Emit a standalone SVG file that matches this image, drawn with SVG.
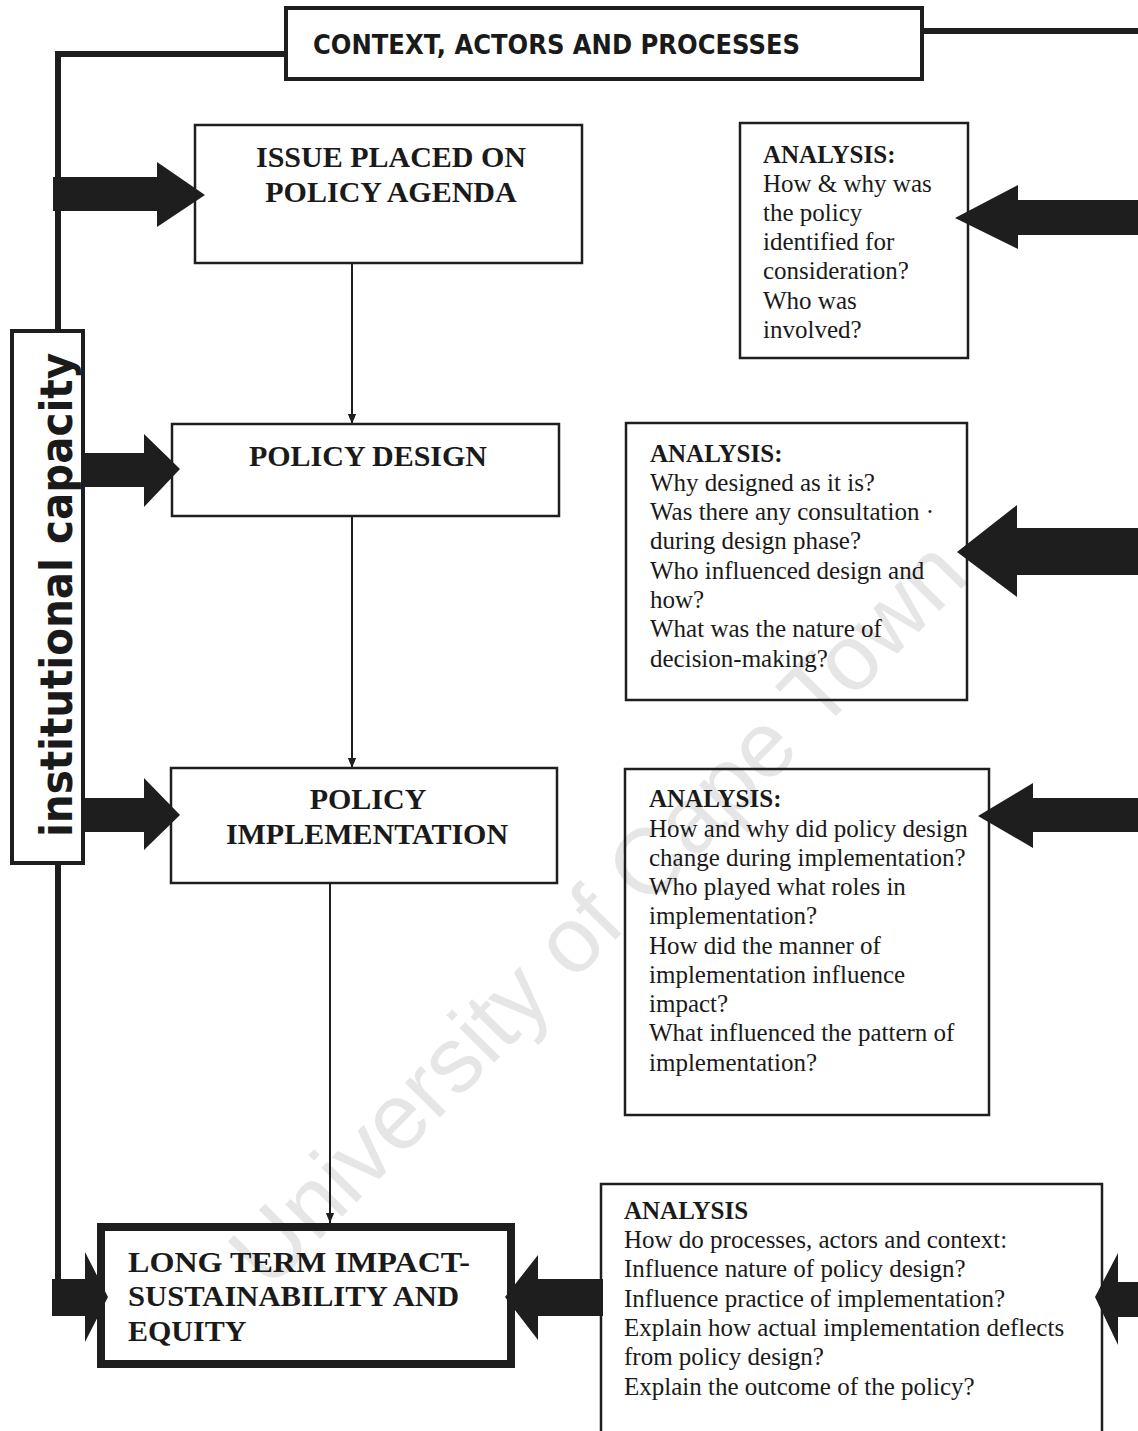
<svg xmlns="http://www.w3.org/2000/svg" width="1138" height="1431" viewBox="0 0 1138 1431">
<style>
.box{fill:none;stroke:#1e1e1e;stroke-width:2.5}
.thick{fill:none;stroke:#1e1e1e;stroke-width:4}
.title{font-family:"Liberation Serif","Times New Roman",serif;font-weight:bold;font-size:30px;fill:#1a1a1a}
.q{font-family:"Liberation Serif","Times New Roman",serif;font-size:25px;fill:#1a1a1a}
.qb{font-weight:bold}
.big{fill:#1e1e1e}
.wire{fill:none;stroke:#1e1e1e;stroke-width:6}
.thin{fill:none;stroke:#1e1e1e;stroke-width:2}
.sans{font-family:"DejaVu Sans","Liberation Sans",sans-serif;font-weight:bold;fill:#1a1a1a}
.wm{font-family:"Liberation Sans",Arial,sans-serif;font-size:93px;fill:#e6e6e6}
</style>
<defs>
<marker id="ah" markerUnits="userSpaceOnUse" markerWidth="10" markerHeight="12" refX="12" refY="5" orient="auto" viewBox="0 0 12 10">
<path d="M0,0 L12,5 L0,10 z" fill="#1e1e1e"/>
</marker>
</defs>
<rect width="1138" height="1431" fill="#ffffff"/>
<text class="wm" x="620" y="935" text-anchor="middle" transform="rotate(-45.4 620 935)">University of Cape Town</text>

<g id="connectors">
<path class="wire" d="M1138,31 H922"/>
<path class="wire" d="M286,54 H58 V331"/>
<path class="wire" d="M58,863 V1290"/>
<line class="thin" x1="352" y1="264" x2="352" y2="424" marker-end="url(#ah)"/>
<line class="thin" x1="352" y1="516" x2="352" y2="768" marker-end="url(#ah)"/>
<line class="thin" x1="330" y1="883" x2="330" y2="1223" marker-end="url(#ah)"/>
<polygon class="big" points="53,177 157,177 157,162 205,195 157,227 157,211 53,211"/>
<polygon class="big" points="83,453 144,453 144,434 180,469 144,507 144,487 83,487"/>
<polygon class="big" points="82,798 144,798 144,778 180,815 144,850 144,832 82,832"/>
<polygon class="big" points="52,1279 85,1279 85,1252 108,1297 85,1342 85,1316 52,1316"/>
<polygon class="big" points="1138,200 1018,200 1018,185 955,218 1018,249 1018,235 1138,235"/>
<polygon class="big" points="1138,528 1017,528 1017,505 957,552 1017,597 1017,575 1138,575"/>
<polygon class="big" points="1138,798 1033,798 1033,783 978,816 1033,848 1033,832 1138,832"/>
<polygon class="big" points="1138,1282 1118,1282 1118,1253 1095,1297 1118,1345 1118,1317 1138,1317"/>
<polygon class="big" points="603,1279 538,1279 538,1255 505,1297 538,1340 538,1316 603,1316"/>
</g>

<g id="header">
<rect class="thick" x="286" y="8" width="636" height="71" fill="#fff"/>
<text class="sans" x="313" y="54" font-size="27" textLength="487" lengthAdjust="spacingAndGlyphs">CONTEXT, ACTORS AND PROCESSES</text>
</g>

<g id="institutional">
<rect class="thick" x="12" y="331" width="71" height="532" fill="#fff"/>
<text class="sans" x="0" y="0" font-size="44" text-anchor="middle" textLength="484" lengthAdjust="spacingAndGlyphs" transform="translate(72 595) rotate(-90)">institutional capacity</text>
</g>

<g id="issue">
<rect class="box" x="195" y="125" width="387" height="138"/>
<text class="title" text-anchor="middle"><tspan x="391" y="167">ISSUE PLACED ON</tspan><tspan x="391" y="202">POLICY AGENDA</tspan></text>
</g>

<g id="design">
<rect class="box" x="172" y="424" width="387" height="92"/>
<text class="title" x="368" y="466" text-anchor="middle">POLICY DESIGN</text>
</g>

<g id="implementation">
<rect class="box" x="171" y="768" width="386" height="115"/>
<text class="title" text-anchor="middle"><tspan x="368" y="809">POLICY</tspan><tspan x="367" y="844">IMPLEMENTATION</tspan></text>
</g>

<g id="impact">
<rect x="101" y="1227" width="410" height="137" fill="none" stroke="#1e1e1e" stroke-width="8"/>
<text class="title" font-size="31"><tspan x="128" y="1272" textLength="342" lengthAdjust="spacingAndGlyphs">LONG TERM IMPACT-</tspan><tspan x="128" y="1306" textLength="331" lengthAdjust="spacingAndGlyphs">SUSTAINABILITY AND</tspan><tspan x="128" y="1341">EQUITY</tspan></text>
</g>

<g id="analysis1">
<rect class="box" x="740" y="123" width="228" height="235"/>
<text class="q">
<tspan x="763" y="163" class="qb">ANALYSIS:</tspan>
<tspan x="763" y="192">How &amp; why was</tspan>
<tspan x="763" y="221">the policy</tspan>
<tspan x="763" y="250">identified for</tspan>
<tspan x="763" y="279">consideration?</tspan>
<tspan x="763" y="309">Who was</tspan>
<tspan x="763" y="338">involved?</tspan>
</text>
</g>

<g id="analysis2">
<rect class="box" x="626" y="423" width="341" height="277"/>
<text class="q">
<tspan x="650" y="462" class="qb">ANALYSIS:</tspan>
<tspan x="650" y="491">Why designed as it is?</tspan>
<tspan x="650" y="520">Was there any consultation  ·</tspan>
<tspan x="650" y="549">during design phase?</tspan>
<tspan x="650" y="579">Who influenced design and</tspan>
<tspan x="650" y="608">how?</tspan>
<tspan x="650" y="637">What was the nature of</tspan>
<tspan x="650" y="667">decision-making?</tspan>
</text>
</g>

<g id="analysis3">
<rect class="box" x="625" y="769" width="364" height="346"/>
<text class="q">
<tspan x="649" y="807" class="qb">ANALYSIS:</tspan>
<tspan x="649" y="837">How and why did policy design</tspan>
<tspan x="649" y="866">change during implementation?</tspan>
<tspan x="649" y="895">Who played what roles in</tspan>
<tspan x="649" y="924">implementation?</tspan>
<tspan x="649" y="954">How did the manner of</tspan>
<tspan x="649" y="983">implementation influence</tspan>
<tspan x="649" y="1012">impact?</tspan>
<tspan x="649" y="1041">What influenced the pattern of</tspan>
<tspan x="649" y="1071">implementation?</tspan>
</text>
</g>

<g id="analysis4">
<path class="box" d="M601,1431 V1184 H1102 V1431"/>
<text class="q">
<tspan x="624" y="1219" class="qb">ANALYSIS</tspan>
<tspan x="624" y="1248">How do processes, actors and context:</tspan>
<tspan x="624" y="1277">Influence nature of policy design?</tspan>
<tspan x="624" y="1307">Influence practice of implementation?</tspan>
<tspan x="624" y="1336">Explain how actual implementation deflects</tspan>
<tspan x="624" y="1365">from policy design?</tspan>
<tspan x="624" y="1395">Explain the outcome of the policy?</tspan>
</text>
</g>
</svg>
